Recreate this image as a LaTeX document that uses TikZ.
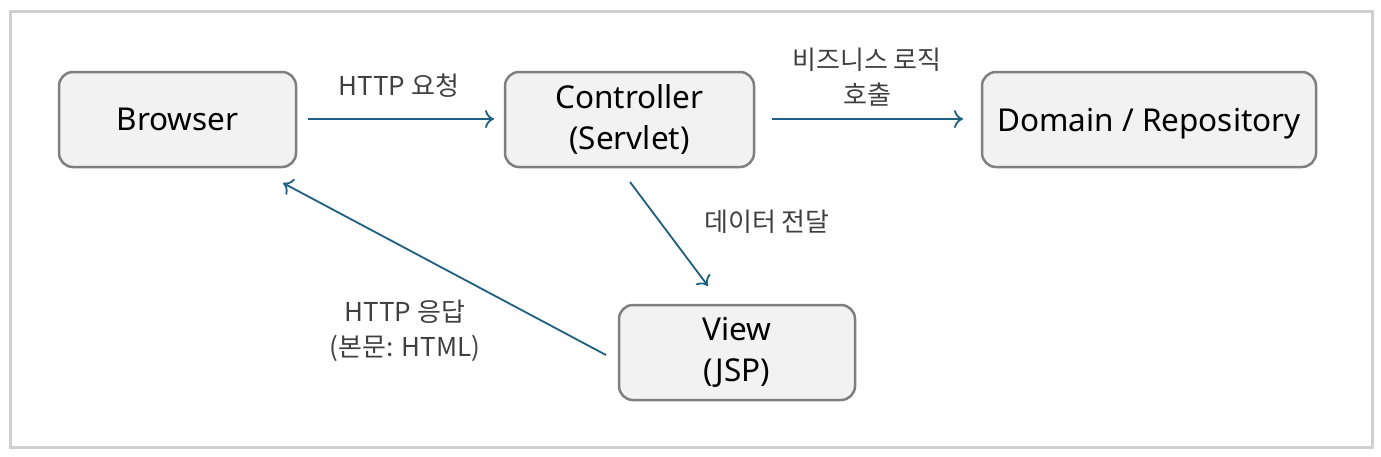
\documentclass[tikz,border=0pt]{standalone}
\usepackage{fontspec}
\setmainfont{Noto Sans}
\newfontfamily\kofont{Noto Sans CJK KR}
\usetikzlibrary{arrows.meta}
\definecolor{boxfill}{HTML}{F2F2F2}
\definecolor{boxline}{HTML}{7F7F7F}
\definecolor{flow}{HTML}{1F5F80}
\definecolor{labtext}{HTML}{404040}
\definecolor{frame}{HTML}{D0D0D0}
\tikzset{
    part/.style={draw=boxline,fill=boxfill,line width=2.5pt,rounded corners=14pt,
        minimum height=95pt,align=center,font=\fontsize{31.5}{41}\selectfont},
    flowline/.style={draw=flow,line width=1.8pt,-{To[length=9pt,width=18pt]}},
    flowlabel/.style={text=labtext,align=center,font=\kofont\fontsize{26}{35}\selectfont}
}

\begin{document}
\begin{tikzpicture}[x=1pt,y=-1pt]
        \useasboundingbox (0,0) rectangle (1381,456);
        \draw[frame,line width=3pt] (10,11) rectangle (1372,447);
        % boxes
        \node[part,minimum width=237pt] (browser) at (177.5,119.5) {Browser};
        \node[part,minimum width=249pt] (controller) at (629.5,119.5) {Controller\\(Servlet)};
        \node[part,minimum width=334pt,text depth=0pt] (domain) at (1149,119.5) {Domain / Repository};
        \node[part,minimum width=236pt] (view) at (737,352.5) {View\\(JSP)};
        % connector ends
        \coordinate (b1) at (308,119);
        \coordinate (c1) at (494,119);
        \coordinate (c2) at (772,119);
        \coordinate (d1) at (963,119);
        \coordinate (c3) at (630,182);
        \coordinate (v1) at (708,286);
        \coordinate (v2) at (606,355);
        \coordinate (b2) at (283,183);
        \draw[flowline] (b1) -- (c1);
        \draw[flowline] (c2) -- (d1);
        \draw[flowline] (c3) -- (v1);
        \draw[flowline] (v2) -- (b2);
        % labels
        \node[flowlabel] (request) at (399,86) {HTTP 요청};
        \node[flowlabel] (call) at (867,77) {비즈니스 로직\\호출};
        \node[flowlabel] (pass) at (767,222) {데이터 전달};
        \node[flowlabel] (response) at (405,331) {HTTP 응답\\(본문: HTML)};
    \end{tikzpicture}
\end{document}
